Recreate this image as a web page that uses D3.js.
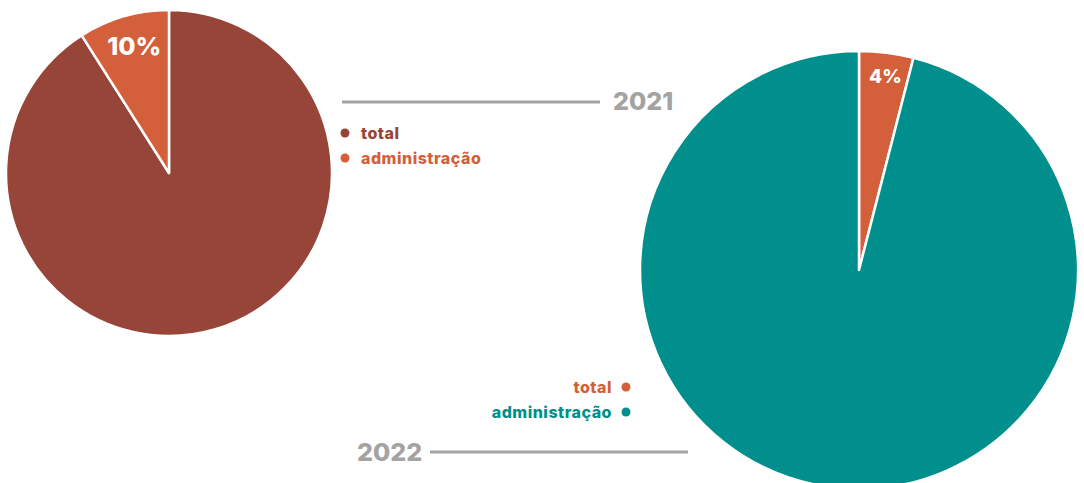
<!DOCTYPE html>
<html>
<head>
<meta charset="utf-8">
<script src="https://cdn.jsdelivr.net/npm/d3@7"></script>
<style>
  body { margin: 0; background: #fff; }
  text { font-family: Inter, "Open Sans", sans-serif; font-weight: 800; }
</style>
</head>
<body>
<script>
var width = 1084,
    height = 483;

// data
var categories = ["total", "administração"];
var values2021 = [91, 9];     // slice shares, 2021
var values2022 = [96, 4];     // slice shares, 2022
var sliceLabels = ["10%", "4%"];
var years = ["2021", "2022"];

var colBrown = "#974439",
    colOrange = "#d3603a",
    colTeal = "#008f8c",
    colGray = "#a3a3a3";

var svg = d3.select("body")
    .append("svg")
    .attr("width", width)
    .attr("height", height);

//----- 2021 pie (admin slice ends at 12 o'clock, on the left)
var pie1 = d3.pie().sort(null).value(function(d) { return d.v; });
var data1 = categories.map(function(c, i) { return {cat: c, v: values2021[i]}; });
var r1 = 163;
var arc1 = d3.arc().innerRadius(0).outerRadius(r1);
var g1 = svg.append("g").attr("transform", "translate(169,173)");
g1.selectAll("path")
    .data(pie1(data1))
    .enter()
    .append("path")
    .attr("d", arc1)
    .attr("fill", function(d, i) { return i == 0 ? colBrown : colOrange; })
    .attr("stroke", "#fff")
    .attr("stroke-width", 2.5)
    .attr("stroke-linejoin", "round");

// label inside the small slice
var a1 = pie1(data1)[1];
var mid1 = (a1.startAngle + a1.endAngle) / 2;
g1.append("text")
    .attr("x", Math.sin(mid1) * (r1 - 31) + 2)
    .attr("y", -Math.cos(mid1) * (r1 - 31))
    .attr("text-anchor", "middle")
    .attr("dy", "0.36em")
    .attr("fill", "#fff")
    .style("font-size", "25px")
    .text(sliceLabels[0]);

//----- 2022 pie (admin slice starts at 12 o'clock, on the right)
var pie2 = d3.pie().sort(null).value(function(d) { return d.v; });
var data2 = [{cat: categories[1], v: values2022[1]}, {cat: categories[0], v: values2022[0]}];
var r2 = 219;
var arc2 = d3.arc().innerRadius(0).outerRadius(r2);
var g2 = svg.append("g").attr("transform", "translate(859,270)");
g2.selectAll("path")
    .data(pie2(data2))
    .enter()
    .append("path")
    .attr("d", arc2)
    .attr("fill", function(d, i) { return i == 0 ? colOrange : colTeal; })
    .attr("stroke", "#fff")
    .attr("stroke-width", 2.5)
    .attr("stroke-linejoin", "round");

var a2 = pie2(data2)[0];
var mid2 = (a2.startAngle + a2.endAngle) / 2;
g2.append("text")
    .attr("x", Math.sin(mid2) * (r2 - 24) + 2)
    .attr("y", -Math.cos(mid2) * (r2 - 24))
    .attr("text-anchor", "middle")
    .attr("dy", "0.36em")
    .attr("fill", "#fff")
    .style("font-size", "19px")
    .text(sliceLabels[1]);

//----- year labels with rules
svg.append("line")
    .attr("x1", 342).attr("x2", 600)
    .attr("y1", 102).attr("y2", 102)
    .attr("stroke", colGray).attr("stroke-width", 3);
svg.append("text")
    .attr("x", 613).attr("y", 110)
    .attr("fill", colGray)
    .style("font-size", "25px")
    .text(years[0]);

svg.append("line")
    .attr("x1", 430).attr("x2", 688)
    .attr("y1", 452).attr("y2", 452)
    .attr("stroke", colGray).attr("stroke-width", 3);
svg.append("text")
    .attr("x", 357).attr("y", 461)
    .attr("fill", colGray)
    .style("font-size", "25px")
    .text(years[1]);

//----- legends
var leg1Colors = [colBrown, colOrange];
categories.forEach(function(c, i) {
    svg.append("circle")
        .attr("cx", 345).attr("cy", 133 + i * 25)
        .attr("r", 4.5)
        .attr("fill", leg1Colors[i]);
    svg.append("text")
        .attr("x", 361).attr("y", 139 + i * 25)
        .attr("fill", leg1Colors[i])
        .style("font-size", "16px")
        .style("letter-spacing", "0.5px")
        .text(c);
});

var leg2Colors = [colOrange, colTeal];
categories.forEach(function(c, i) {
    svg.append("circle")
        .attr("cx", 626).attr("cy", 387 + i * 25)
        .attr("r", 4.5)
        .attr("fill", leg2Colors[i]);
    svg.append("text")
        .attr("x", 612).attr("y", 393 + i * 25)
        .attr("text-anchor", "end")
        .attr("fill", leg2Colors[i])
        .style("font-size", "16px")
        .style("letter-spacing", "0.5px")
        .text(c);
});
</script>
</body>
</html>
